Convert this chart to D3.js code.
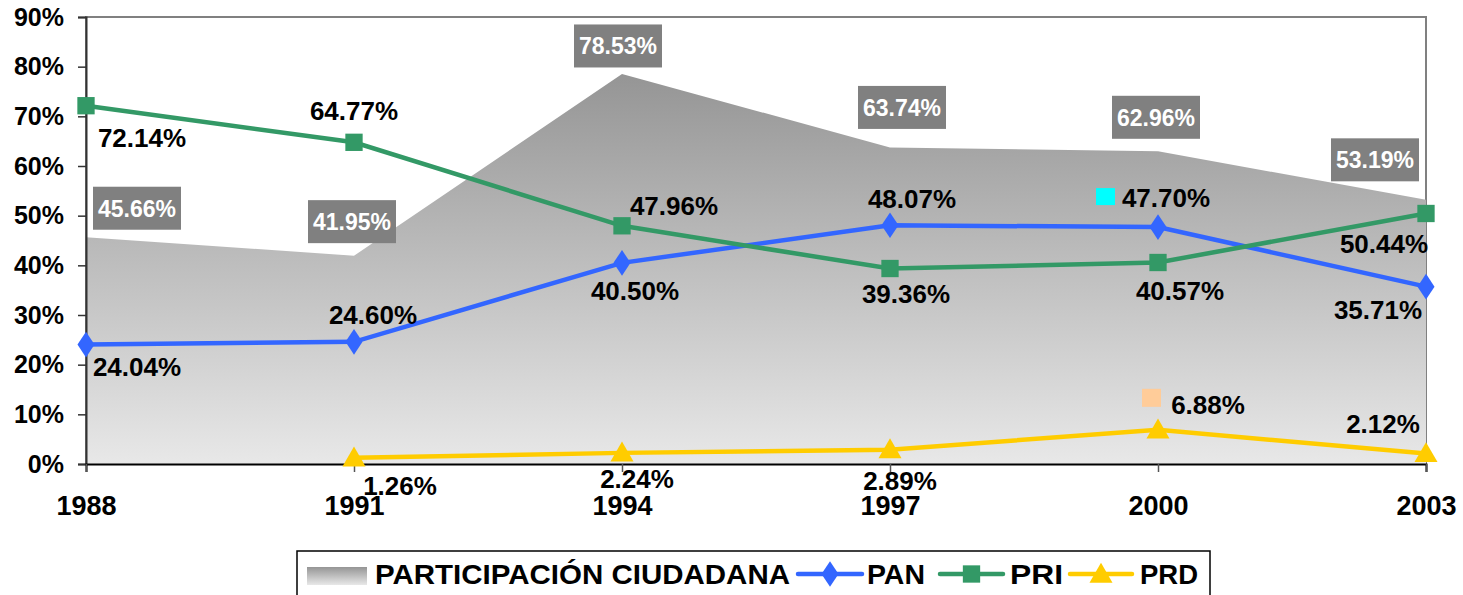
<!DOCTYPE html>
<html>
<head>
<meta charset="utf-8">
<script src="https://cdn.jsdelivr.net/npm/d3@7"></script>
<style>
  html, body { margin: 0; padding: 0; background: #fff; }
  svg { display: block; font-family: "Liberation Sans", Arial, sans-serif; font-weight: bold; }
</style>
</head>
<body>
<svg id="chart" width="1463" height="595"></svg>
<script>
// ---- data ----
const years = ["1988", "1991", "1994", "1997", "2000", "2003"];
const participacion = [45.66, 41.95, 78.53, 63.74, 62.96, 53.19];
const pan = [24.04, 24.60, 40.50, 48.07, 47.70, 35.71];
const pri = [72.14, 64.77, 47.96, 39.36, 40.57, 50.44];
const prd = [null, 1.26, 2.24, 2.89, 6.88, 2.12];
const yTicks = [0, 10, 20, 30, 40, 50, 60, 70, 80, 90];
const legendNames = ["PARTICIPACIÓN CIUDADANA", "PAN", "PRI", "PRD"];

// ---- label layout (pixel offsets of label centres from the data point) ----
const partLabelOff = [[51, -29], [-2, -34], [-4, -28], [12, -40], [-2, -34], [-51, -40]];
const panLabelOff  = [[51, 22], [19, -27], [13, 28], [22, -27], [8, -29], [-48, 23]];
const priLabelOff  = [[56, 32], [0, -32], [52, -20], [16, 25], [22, 28], [-42, 30]];
const prdLabelOff  = [null, [46, 28], [15, 26], [10, 31], [50, -25], [-43, -30]];

const svg = d3.select("#chart");
const L = 86, R = 1426, T = 17, B = 464;

const x = d3.scalePoint().domain(years).range([L, R]).padding(0);
const y = d3.scaleLinear().domain([0, 90]).range([B, T]);

// gradient defs
const defs = svg.append("defs");
const g1 = defs.append("linearGradient").attr("id", "areaGrad")
  .attr("gradientUnits", "userSpaceOnUse")
  .attr("x1", 0).attr("x2", 0).attr("y1", y(78.53)).attr("y2", B);
g1.append("stop").attr("offset", "0%").attr("stop-color", "#959595");
g1.append("stop").attr("offset", "100%").attr("stop-color", "#e8e8e8");
const g2 = defs.append("linearGradient").attr("id", "legGrad")
  .attr("x1", 0).attr("x2", 0).attr("y1", 0).attr("y2", 1);
g2.append("stop").attr("offset", "0%").attr("stop-color", "#959595");
g2.append("stop").attr("offset", "100%").attr("stop-color", "#e8e8e8");

// plot background + border
svg.append("rect").attr("x", L).attr("y", T).attr("width", R - L).attr("height", B - T)
  .attr("fill", "#fff").attr("stroke", "#808080").attr("stroke-width", 2);

// area
const areaGen = d3.area().x((d, i) => x(years[i])).y0(B).y1(d => y(d));
svg.append("path").datum(participacion).attr("d", areaGen).attr("fill", "url(#areaGrad)");

// y axis
const yAxis = d3.axisLeft(y).tickValues(yTicks).tickFormat(d => d + "%").tickSize(8).tickPadding(14);
const ya = svg.append("g").attr("transform", `translate(${L},0)`).call(yAxis);
ya.select(".domain").attr("stroke", "#333").attr("stroke-width", 2);
ya.selectAll(".tick line").attr("stroke", "#333").attr("stroke-width", 1.5);
ya.selectAll(".tick text").attr("font-size", 25).attr("font-weight", "bold")
  .attr("fill", "#000").attr("font-family", "Liberation Sans, Arial, sans-serif").attr("x", -22);

// x axis
const xAxis = d3.axisBottom(x).tickSize(8).tickPadding(24);
const xa = svg.append("g").attr("transform", `translate(0,${B})`).call(xAxis);
xa.select(".domain").attr("stroke", "#000").attr("stroke-width", 2);
xa.selectAll(".tick line").attr("stroke", "#555").attr("stroke-width", 1.5);
xa.selectAll(".tick text").attr("font-size", 27).attr("font-weight", "bold")
  .attr("fill", "#000").attr("font-family", "Liberation Sans, Arial, sans-serif");

// lines
const series = [
  { name: "PAN", vals: pan, color: "#3366FF", sym: d3.symbolDiamond, size: 190 },
  { name: "PRI", vals: pri, color: "#339966", sym: d3.symbolSquare, size: 300 },
  { name: "PRD", vals: prd, color: "#FFCC00", sym: d3.symbolTriangle, size: 230 }
];
const lineGen = d3.line().defined(d => d != null).x((d, i) => x(years[i])).y(d => y(d));
series.forEach(s => {
  svg.append("path").datum(s.vals).attr("d", lineGen)
    .attr("fill", "none").attr("stroke", s.color).attr("stroke-width", 4.5);
});
series.forEach(s => {
  svg.append("g").selectAll("path").data(s.vals.map((v, i) => ({ v, i })).filter(d => d.v != null))
    .join("path")
    .attr("d", d3.symbol().type(s.sym).size(s.size))
    .attr("transform", d => {
      const cx = x(years[d.i]), cy = y(d.v) + (s.sym === d3.symbolTriangle ? 2 : 0);
      return s.sym === d3.symbolDiamond ? `translate(${cx},${cy}) scale(1.15,1)` : `translate(${cx},${cy})`;
    })
    .attr("fill", s.color);
});

// labels
const fmt = v => v.toFixed(2) + "%";
function dataLabels(vals, offs, fs) {
  vals.forEach((v, i) => {
    if (v == null) return;
    const cx = x(years[i]) + offs[i][0], cy = y(v) + offs[i][1];
    svg.append("text").attr("x", cx).attr("y", cy + 0.36 * fs)
      .attr("text-anchor", "middle").attr("font-size", fs).attr("fill", "#000").text(fmt(v));
  });
}
// participation boxes
participacion.forEach((v, i) => {
  const cx = x(years[i]) + partLabelOff[i][0], cy = y(v) + partLabelOff[i][1];
  svg.append("rect").attr("x", cx - 44).attr("y", cy - 21.5).attr("width", 88).attr("height", 43)
    .attr("fill", "#808080");
  svg.append("text").attr("x", cx).attr("y", cy + 0.36 * 23)
    .attr("text-anchor", "middle").attr("font-size", 23).attr("fill", "#fff").text(fmt(v));
});
dataLabels(pan, panLabelOff, 26);
dataLabels(pri, priLabelOff, 26);
dataLabels(prd, prdLabelOff, 26);

// stray legend-key squares next to the 2000 labels
svg.append("rect").attr("x", x("2000") - 62).attr("y", y(pan[4]) - 39).attr("width", 19).attr("height", 17).attr("fill", "#00FFFF");
svg.append("rect").attr("x", x("2000") - 16).attr("y", y(prd[4]) - 41).attr("width", 19).attr("height", 18).attr("fill", "#FFCC99");

// legend
const leg = svg.append("g");
leg.append("rect").attr("x", 297).attr("y", 551).attr("width", 913).attr("height", 60)
  .attr("fill", "#fff").attr("stroke", "#000").attr("stroke-width", 1.5);
leg.append("rect").attr("x", 307).attr("y", 567).attr("width", 60).attr("height", 18).attr("fill", "url(#legGrad)");
const legText = (tx, str, w) => {
  const t = leg.append("text").attr("x", tx).attr("y", 584).attr("font-size", 28)
    .attr("fill", "#000").text(str);
  if (w) t.attr("textLength", w).attr("lengthAdjust", "spacingAndGlyphs");
  return t;
};
legText(375, legendNames[0], 415);
const legItems = [
  { x0: 798, x1: 862, tx: 867, w: 58, s: series[0] },
  { x0: 940, x1: 1003, tx: 1010, w: 53, s: series[1] },
  { x0: 1070, x1: 1132, tx: 1140, w: 58, s: series[2] }
];
legItems.forEach((it, k) => {
  leg.append("line").attr("x1", it.x0).attr("x2", it.x1).attr("y1", 574).attr("y2", 574)
    .attr("stroke", it.s.color).attr("stroke-width", 4.5).attr("stroke-linecap", "round");
  const cx = (it.x0 + it.x1) / 2;
  leg.append("path").attr("d", d3.symbol().type(it.s.sym).size(it.s.size)())
    .attr("transform", it.s.sym === d3.symbolDiamond ? `translate(${cx},574) scale(1.15,1)` : `translate(${cx},${it.s.sym === d3.symbolTriangle ? 576 : 574})`)
    .attr("fill", it.s.color);
  legText(it.tx, legendNames[k + 1], it.w);
});
</script>
</body>
</html>
